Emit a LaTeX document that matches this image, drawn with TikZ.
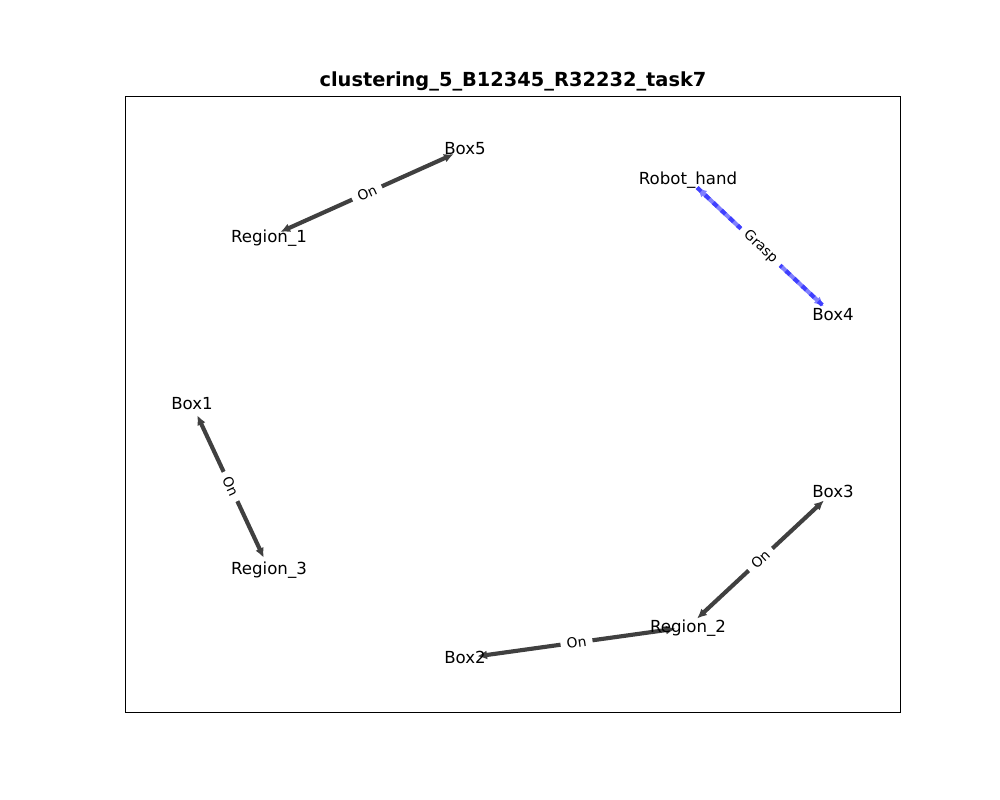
\documentclass[tikz,border=0pt]{standalone}
\usepackage{fontspec}
\setmainfont{DejaVu Sans}
\usetikzlibrary{arrows.meta,backgrounds}
\begin{document}
\begin{tikzpicture}[x=0.01in,y=-0.01in,
  obj/.style={inner sep=0pt, text height=0.73em, text depth=0pt, font=\fontsize{12}{14}\selectfont},
  rel/.style={line width=3pt, draw=black!75, shorten <=9pt, shorten >=9pt,
    {Latex[length=7pt,width=6.5pt]}-{Latex[length=7pt,width=6.5pt]}},
  grasp/.style={rel, draw=blue!50, postaction={draw=blue!75, -, dash pattern=on 4pt off 4pt}},
  lbl/.style={midway, sloped, fill=white, inner xsep=4.5pt, inner ysep=2.5pt, font=\fontsize{10}{12}\selectfont}]
\useasboundingbox (0,0) rectangle (1000,800);
\draw [line width=0.6pt] (125,96) rectangle (900,712);
\node [font=\bfseries\fontsize{14}{16}\selectfont] (title) at (513,81) {clustering\_5\_B12345\_R32232\_task7};
% objects
\node [obj] (box5) at (465,149) {Box5};
\node [obj] (region1) at (269,237) {Region\_1};
\node [obj] (robothand) at (688,179) {Robot\_hand};
\node [obj] (box4) at (833,315) {Box4};
\node [obj] (box1) at (192,404) {Box1};
\node [obj] (region3) at (269,569) {Region\_3};
\node [obj] (box3) at (833,492) {Box3};
\node [obj] (region2) at (688,627) {Region\_2};
\node [obj] (box2) at (465,658) {Box2};
% relations
\begin{pgfonlayer}{background}
\draw [rel] (region1.center) -- node [lbl] {On} (box5.center);
\draw [grasp] (robothand.center) -- node [lbl] {Grasp} (box4.center);
\draw [rel] (box1.center) -- node [lbl] {On} (region3.center);
\draw [rel] (region2.center) -- node [lbl] {On} (box3.center);
\draw [rel] (box2.center) -- node [lbl] {On} (region2.center);
\end{pgfonlayer}
\end{tikzpicture}
\end{document}
